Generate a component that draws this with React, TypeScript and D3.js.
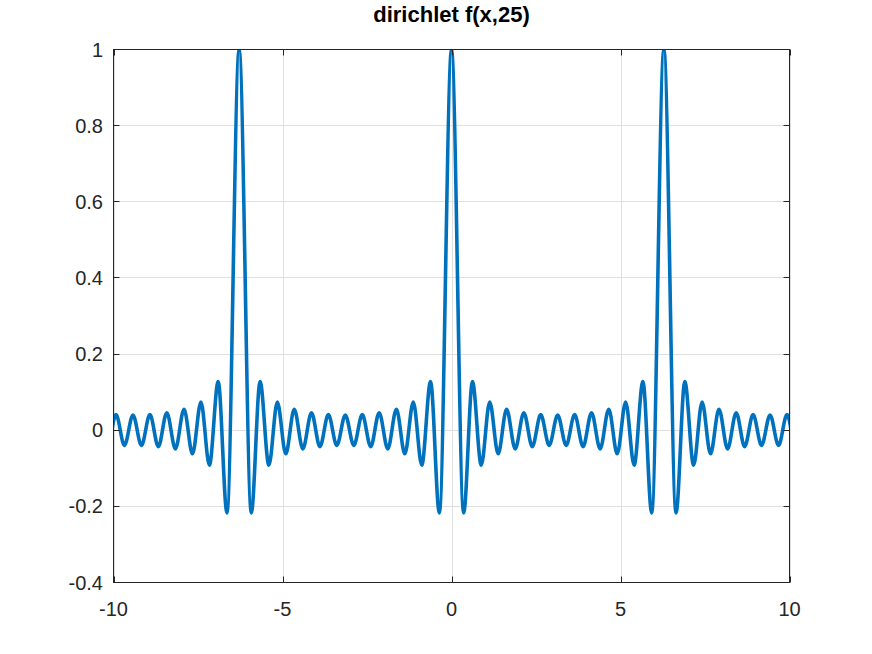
import React from 'react';
import * as d3 from 'd3';

// Peak locations of the periodic curve (the off-chart ones feed the edges)
const peakCenters = [-12.566, -6.283, 0, 6.283, 12.566];
// Extrema: distance from a peak and the value there
const lobeOffsets = [0, 0.36, 0.62, 0.88, 1.13, 1.38, 1.63, 1.885, 2.14, 2.39, 2.64, 2.89, 3.1416];
const lobeValues = [1, -0.217, 0.128, -0.092, 0.074, -0.062, 0.055, -0.049, 0.046, -0.043, 0.041, -0.04, 0.04];
const xTicks = [-10, -5, 0, 5, 10];
const yTicks = [-0.4, -0.2, 0, 0.2, 0.4, 0.6, 0.8, 1];
const title = 'dirichlet f(x,25)';

const W = 872;
const H = 654;
const L = 113.5;
const R = 789.5;
const T = 49.5;
const B = 582.5;
const FONT = '"Liberation Sans", Arial, Helvetica, sans-serif';
const TEXT = '#262626';

function buildPoints(): [number, number][] {
  const m = new Map<string, [number, number]>();
  peakCenters.forEach((c) => {
    lobeOffsets.forEach((o, i) => {
      [c - o, c + o].forEach((x) => {
        const k = x.toFixed(2);
        if (!m.has(k)) m.set(k, [x, lobeValues[i]]);
      });
    });
  });
  return Array.from(m.values())
    .filter((p) => p[0] >= -10.8 && p[0] <= 10.8)
    .sort((a, b) => a[0] - b[0]);
}

export default function App() {
  const x = d3.scaleLinear().domain([-10, 10]).range([L, R]);
  const y = d3.scaleLinear().domain([-0.4, 1]).range([B, T]);
  const pts = buildPoints();
  const line = d3
    .line<[number, number]>()
    .x((d) => x(d[0]))
    .y((d) => y(d[1]))
    .curve(d3.curveMonotoneX);
  const tick = 6;
  return (
    <svg
      width={W}
      height={H}
      style={{ position: 'absolute', left: 0, top: 0, background: '#fff' }}
      fontFamily={FONT}
    >
      <defs>
        <clipPath id="plotclip">
          <rect x={L} y={T} width={R - L} height={B - T} />
        </clipPath>
      </defs>
      <rect x={0} y={0} width={W} height={H} fill="#fff" />
      {/* grid */}
      <g stroke="#dfdfdf" strokeWidth={1}>
        {xTicks.map((t) => (
          <line key={'gx' + t} x1={Math.round(x(t)) + 0.5} x2={Math.round(x(t)) + 0.5} y1={T} y2={B} />
        ))}
        {yTicks.map((t) => (
          <line key={'gy' + t} x1={L} x2={R} y1={Math.round(y(t) - 0.5) + 0.5} y2={Math.round(y(t) - 0.5) + 0.5} />
        ))}
      </g>
      {/* curve */}
      <g clipPath="url(#plotclip)">
        <path
          d={line(pts) || ''}
          fill="none"
          stroke="#0072bd"
          strokeWidth={3.6}
          strokeLinejoin="round"
          strokeLinecap="round"
        />
      </g>
      {/* axes box and ticks */}
      <g stroke={TEXT} strokeWidth={1} fill="none">
        <rect x={L} y={T} width={R - L} height={B - T} />
        {xTicks.map((t) => {
          const px = Math.round(x(t)) + 0.5;
          return (
            <g key={'tx' + t}>
              <line x1={px} x2={px} y1={B} y2={B - tick} />
              <line x1={px} x2={px} y1={T} y2={T + tick} />
            </g>
          );
        })}
        {yTicks.map((t) => {
          const py = Math.round(y(t) - 0.5) + 0.5;
          return (
            <g key={'ty' + t}>
              <line x1={L} x2={L + tick} y1={py} y2={py} />
              <line x1={R} x2={R - tick} y1={py} y2={py} />
            </g>
          );
        })}
      </g>
      {/* tick labels */}
      <g fill={TEXT} fontSize={20}>
        {xTicks.map((t) => (
          <text key={'lx' + t} x={x(t)} y={B + 33.5} textAnchor="middle">
            {String(t)}
          </text>
        ))}
        {yTicks.map((t) => (
          <text key={'ly' + t} x={L - 10.5} y={y(t) + 7} textAnchor="end">
            {String(t)}
          </text>
        ))}
      </g>
      <text
        x={(L + R) / 2}
        y={22}
        textAnchor="middle"
        fontSize={22}
        fontWeight="bold"
        fill="#000"
      >
        {title}
      </text>
    </svg>
  );
}
